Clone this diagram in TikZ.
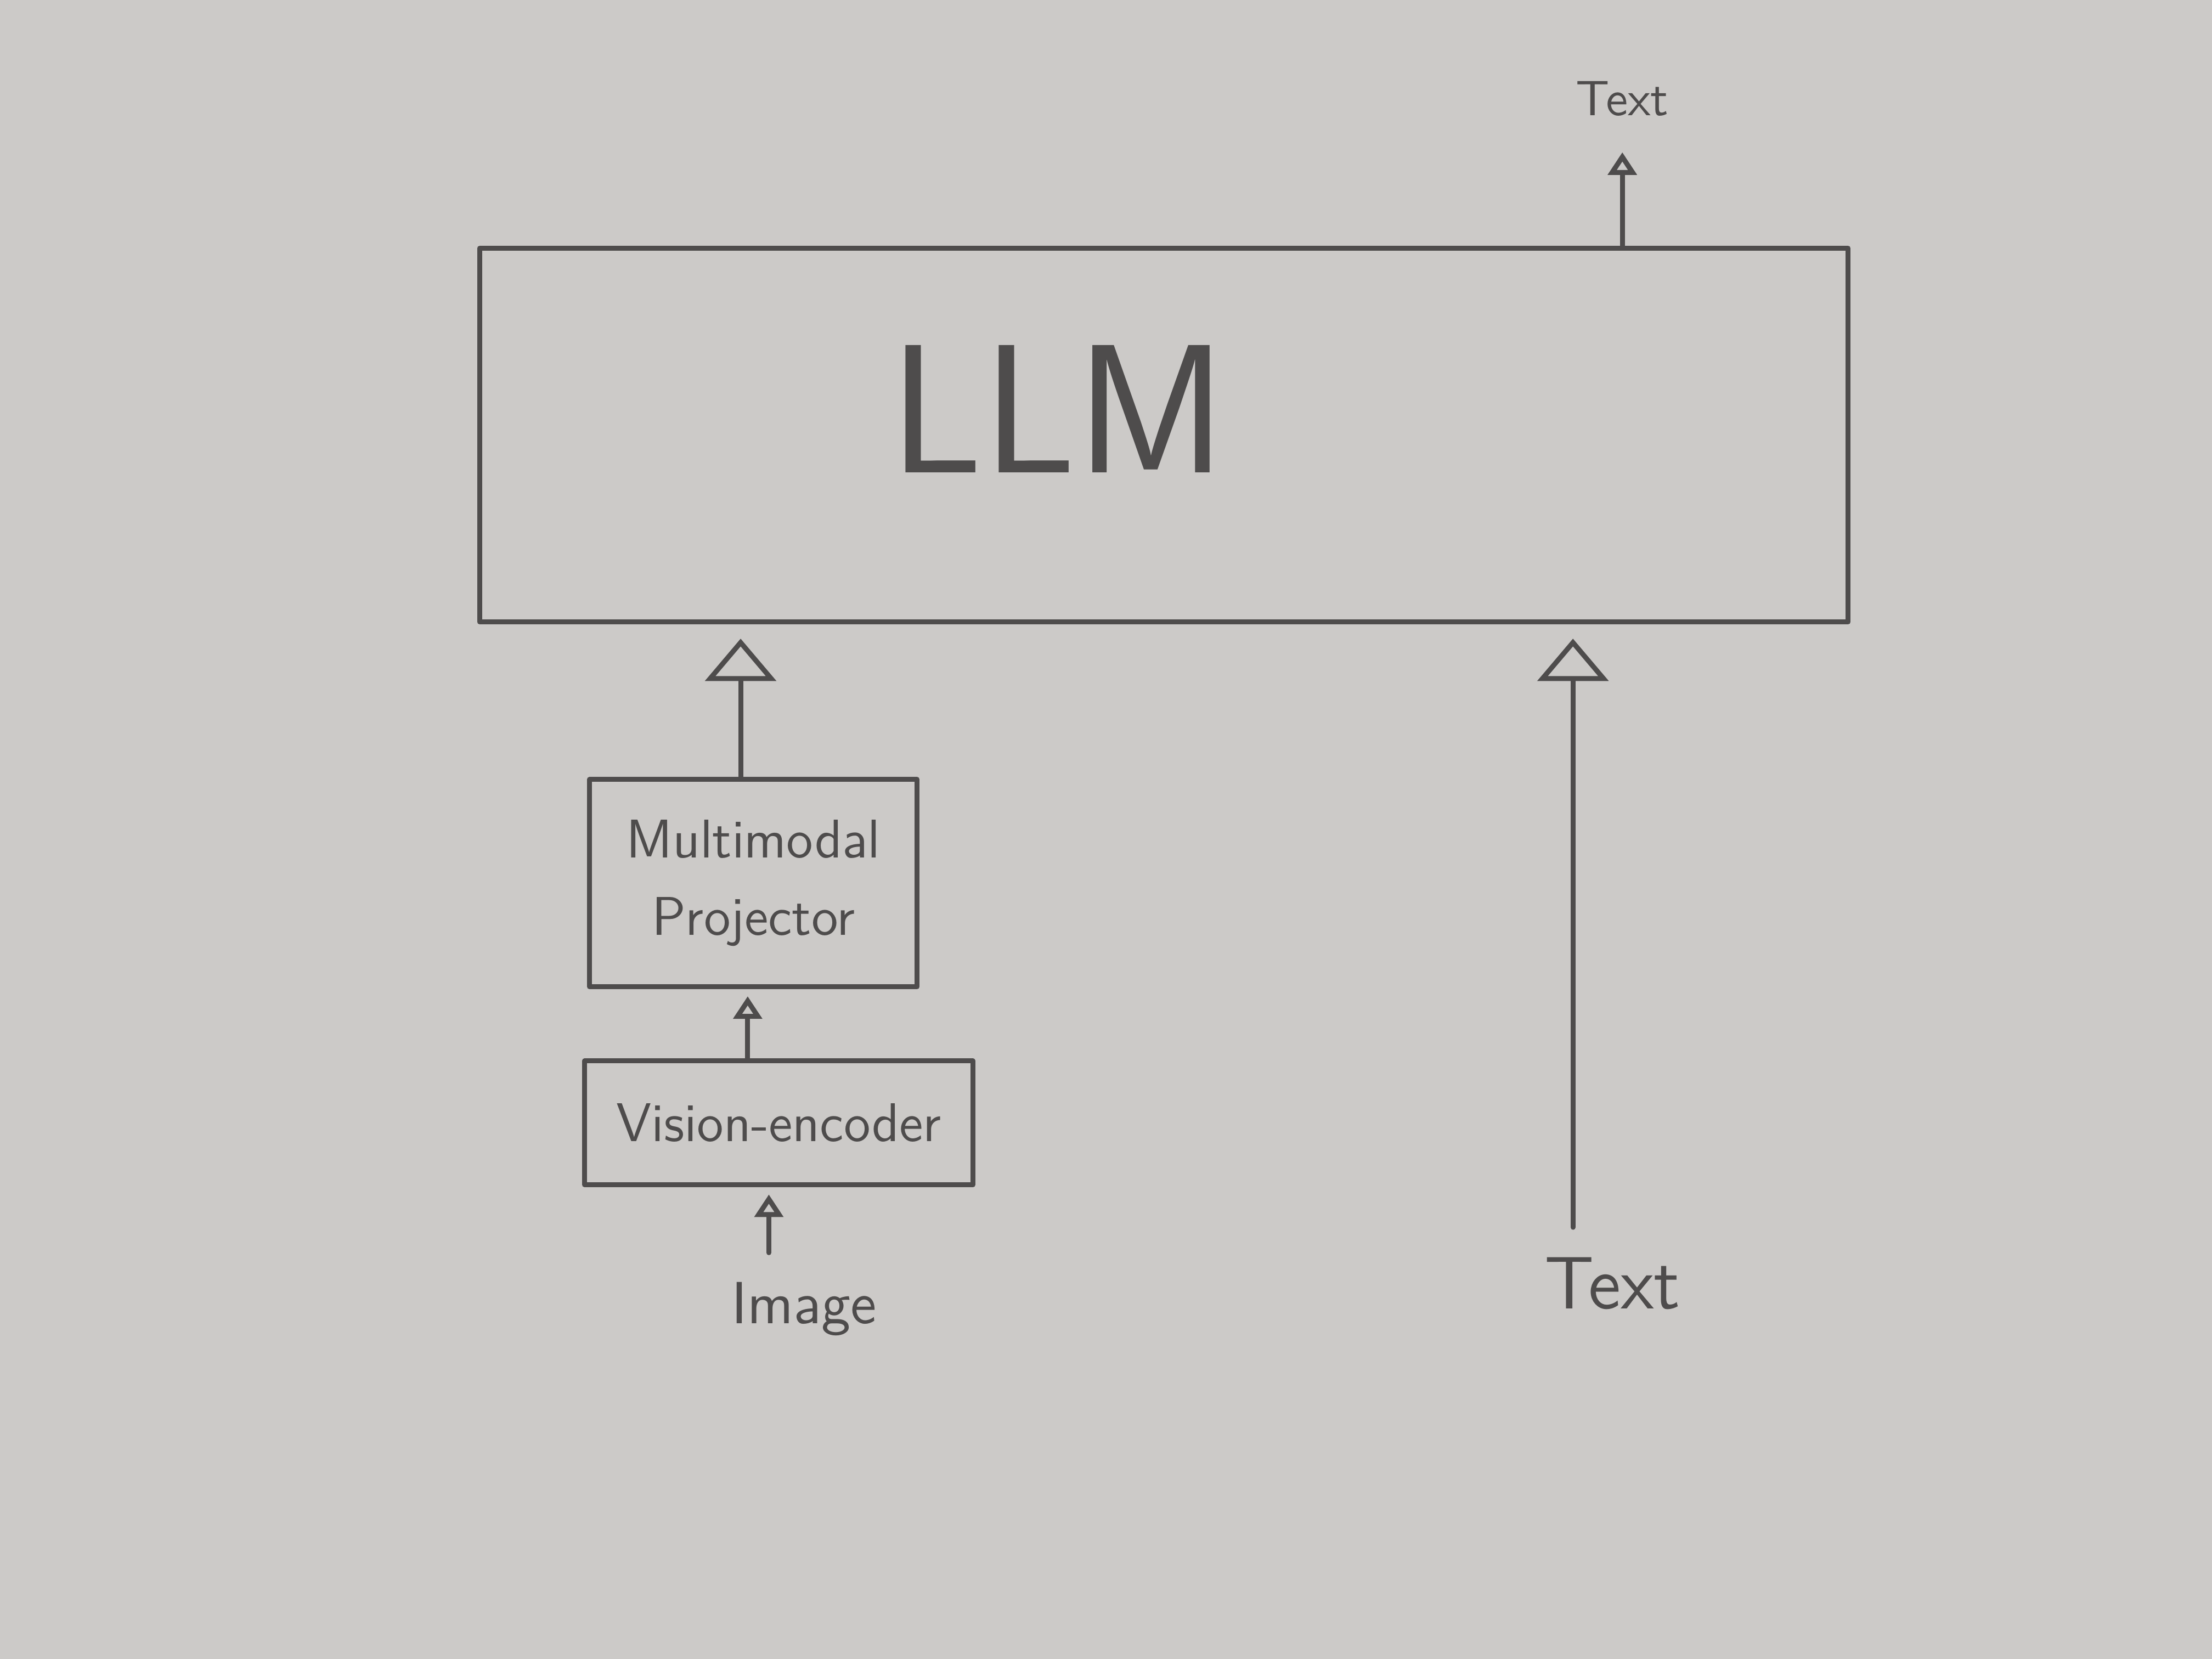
\documentclass[tikz,border=0pt]{standalone}
\usepackage{tikz}
\usetikzlibrary{arrows.meta}
\definecolor{paper}{RGB}{204,202,200}
\definecolor{pencil}{RGB}{78,76,76}

\begin{document}
\begin{tikzpicture}[line join=round, line cap=round,
    box/.style={draw=pencil, line width=1pt, inner sep=0pt, text=pencil, align=center,
      font=\sffamily\fontsize{11}{15.5}\selectfont},
    bigarrow/.style={draw=pencil, line width=1pt, -{Triangle[open, width=5mm, length=3mm]}},
    smallarrow/.style={draw=pencil, line width=1pt, -{Triangle[open, width=2mm, length=1.6mm]}},
    hand/.style={text=pencil, inner sep=1pt}]
  \fill[paper] (0,0) rectangle (15.68,11.76);
  \useasboundingbox (0,0) rectangle (15.68,11.76);
  % the model and its two branches
  \node[box, minimum width=9.7cm, minimum height=2.65cm] (llm) at (8.25,8.675) {};
  \node[hand, font=\sffamily\fontsize{37}{40}\selectfont] (llmname) at (7.5,8.86) {LLM};
  \node[box, minimum width=2.32cm, minimum height=1.47cm] (proj) at (5.34,5.5) {Multimodal\\Projector};
  \node[box, minimum width=2.75cm, minimum height=0.88cm] (venc) at (5.52,3.8) {Vision-encoder};
  \node[hand, font=\sffamily\fontsize{12}{14}\selectfont] (image) at (5.7,2.48) {Image};
  \node[hand, font=\sffamily\fontsize{15}{18}\selectfont] (textin) at (11.43,2.66) {Text};
  \node[hand, font=\sffamily\fontsize{10}{12}\selectfont] (textout) at (11.5,11.06) {Text};
  \coordinate (imgfoot) at (5.45,2.88);
  \coordinate (textfoot) at (11.15,3.06);
  \coordinate (outtip) at (11.5,10.68);
  % arrows
  \draw[bigarrow, shorten >=1mm] (proj.north -| 5.25,0) -- (5.25,0 |- llm.south);
  \draw[bigarrow, shorten >=1mm] (textfoot) -- (textfoot |- llm.south);
  \draw[smallarrow, shorten >=0.5mm] (5.3,0 |- venc.north) -- (5.3,0 |- proj.south);
  \draw[smallarrow, shorten >=0.5mm] (imgfoot) -- (imgfoot |- venc.south);
  \draw[smallarrow] (outtip |- llm.north) -- (outtip);
\end{tikzpicture}
\end{document}
